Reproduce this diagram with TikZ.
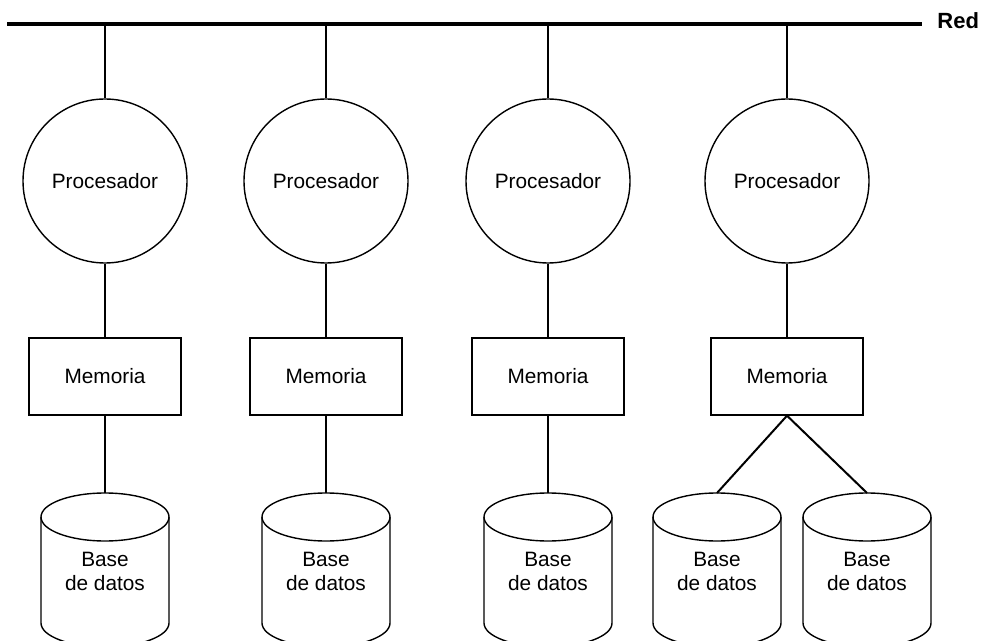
\documentclass[tikz,border=0pt]{standalone}
\usepackage{fontspec}
\setmainfont{Liberation Sans}
\begin{document}
\begin{tikzpicture}[x=0.5pt,y=-0.5pt,
  proc/.style={draw,circle,line width=0.7pt,minimum size=82pt,inner sep=0pt,
    font=\fontsize{10.4}{12}\selectfont},
  mem/.style={draw,rectangle,line width=0.7pt,minimum width=76pt,minimum height=38.5pt,
    inner sep=0pt,font=\fontsize{10.4}{12}\selectfont},
  db/.style={inner sep=0pt,align=center,font=\fontsize{10.4}{12}\selectfont},
  can/.style={line width=0.7pt},
  wire/.style={line width=1pt}]
  \clip (0,0) rectangle (984,641);
  % Network bus
  \coordinate (busL) at (7,24);
  \coordinate (busR) at (922,24);
  \draw[line width=1.6pt] (busL) -- (busR);
  \node[anchor=west,inner sep=0pt,font=\bfseries\fontsize{11}{13}\selectfont] (red) at (937,21) {Red};
  % Processors and memories
  \foreach \i/\x in {1/105, 2/326, 3/548, 4/787} {
    \coordinate (tap\i) at (\x,24);
    \node[proc] (p\i) at (\x,181) {Procesador};
    \node[mem] (m\i) at (\x,376.5) {Memoria};
    \draw[wire] (tap\i) -- (p\i);
    \draw[wire] (p\i) -- (m\i);
  }
  % Databases (cylinders)
  \foreach \i/\x/\m in {1/105/1, 2/326/2, 3/548/3, 4/717/4, 5/867/4} {
    \node[db] (d\i) at (\x,571) {Base\\de datos};
    \coordinate (dtop\i) at (\x,493);
    \draw[can] (\x,517) ellipse [x radius=32pt, y radius=12pt];
    \draw[can] (\x-64,517) -- (\x-64,623)
      arc [start angle=180, end angle=360, x radius=32pt, y radius=12pt]
      -- (\x+64,517);
    \draw[wire] (m\m.south) -- (dtop\i);
  }
\end{tikzpicture}
\end{document}
